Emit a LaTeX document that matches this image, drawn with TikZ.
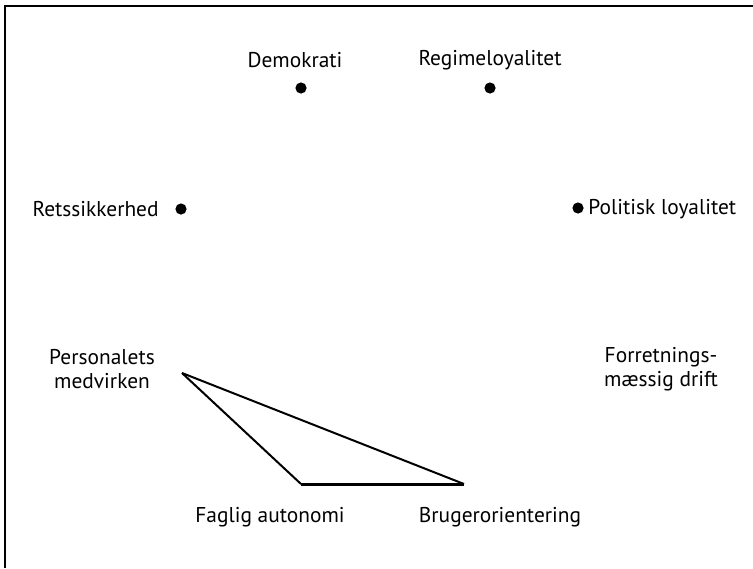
\documentclass[tikz,border=0pt]{standalone}
\usepackage{fontspec}
\setmainfont{PT Sans}
\begin{document}
\begin{tikzpicture}[x=0.5pt, y=-0.5pt,
        dot/.style={circle, fill, inner sep=0pt, minimum size=5.6pt},
        lbl/.style={font=\fontsize{10.7}{12}\selectfont, align=center, inner sep=0pt}]
    \useasboundingbox (0,0) rectangle (753,568);
    \draw[line width=1pt] (4.5,568) -- (4.5,5.5) -- (753,5.5);

    \node[dot] (demo) at (301,88) {};
    \node[dot] (regime) at (490,88) {};
    \node[dot] (rets) at (181,209) {};
    \node[dot] (polit) at (578,208) {};

    \node[lbl] (demolbl) at (295,60) {Demokrati};
    \node[lbl] (regimelbl) at (490,60) {Regimeloyalitet};
    \node[lbl, anchor=east] (retslbl) at (159,209) {Retssikkerhed};
    \node[lbl, anchor=west] (politlbl) at (588,209) {Politisk loyalitet};
    \node[lbl] (perslbl) at (102,369) {Personalets\\medvirken};
    \node[lbl] (forrlbl) at (661,369) {Forretnings-\\mæssig drift};
    \node[lbl] (faglbl) at (270,517) {Faglig autonomi};
    \node[lbl] (brulbl) at (500,517) {Brugerorientering};

    \coordinate (pers) at (182,373);
    \coordinate (fag) at (301,484);
    \coordinate (bru) at (464,484);
    \draw[line width=1pt] (pers) -- (fag);
    \draw[line width=1.5pt] (fag) -- (bru);
    \draw[line width=1pt] (bru) -- (pers);
\end{tikzpicture}
\end{document}
